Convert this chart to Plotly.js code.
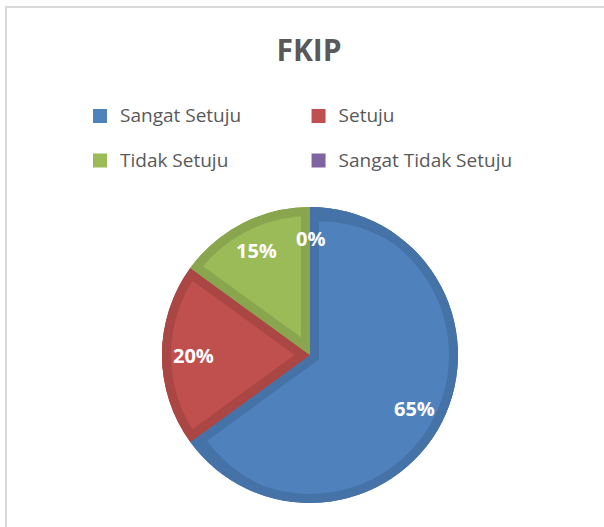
<!DOCTYPE html>
<html><head><meta charset="utf-8">
<script src="https://cdn.plot.ly/plotly-3.0.1.min.js"></script>
<style>
html,body{margin:0;padding:0;background:#fff;}
#wrap{position:relative;width:604px;height:527px;overflow:hidden;background:#fff;}
#frame{position:absolute;left:5px;top:6px;width:700px;height:600px;border-top:2px solid #D9D9D9;border-left:2px solid #D9D9D9;}
#chart{position:absolute;left:0;top:0;width:604px;height:527px;}
</style></head><body>
<div id="wrap"><div id="frame"></div><div id="chart"></div></div>
<script>
// ---- data ----
const categories = ['Sangat Setuju', 'Setuju', 'Tidak Setuju', 'Sangat Tidak Setuju'];
const values = [65, 20, 15, 0];
const chartTitle = 'FKIP';

// ---- style ----
const lightColors = ['#4F81BD', '#C0504D', '#9BBB59', '#8064A2'];
const darkColors  = ['#4572A7', '#AA4643', '#89A54E', '#71588F'];
const FONT = 'Open Sans, Noto Sans, sans-serif';
const W = 604, H = 527, CX = 310, CY = 355, R = 148, S = 9, LABEL_R = 0.79;

function dom(r) {
  return {x: [(CX - r) / W, (CX + r) / W], y: [(H - CY - r) / H, (H - CY + r) / H]};
}
const total = values.reduce((a, b) => a + b, 0);
const shownLabels = categories.map(c => '<span style="font-size:19px">' + c + '</span><br> ');
const clear = 'rgba(0,0,0,0)';

const base = {type: 'pie', labels: shownLabels, values: values, sort: false,
  direction: 'clockwise', rotation: 0, textinfo: 'none', hoverinfo: 'skip', showlegend: false};

const traces = [];
// legend carrier (hidden beneath)
traces.push(Object.assign({}, base, {domain: dom(R - 2), showlegend: true,
  marker: {colors: lightColors, line: {color: lightColors, width: 2}}}));
// dark base
traces.push(Object.assign({}, base, {domain: dom(R), marker: {colors: darkColors, line: {width: 0}}}));
// light inset per slice (pulled to reveal dark edge)
values.forEach((v, i) => {
  if (!(v > 0)) return;
  const half = Math.PI * v / total;
  let d = S / Math.max(Math.sin(half), 1e-6);
  d = Math.min(d, 1.6 * S / (1 - Math.cos(half)));
  const pull = d / (R - d);
  traces.push(Object.assign({}, base, {domain: dom(R),
    marker: {colors: lightColors.map((c, j) => j === i ? c : clear), line: {width: 0}},
    pull: values.map((_, j) => j === i ? pull : 0)}));
});
// dark outer ring
traces.push(Object.assign({}, base, {domain: dom(R), hole: (R - S) / R,
  marker: {colors: darkColors, line: {width: 0}}}));
// carrier for label axes
traces.push({type: 'scatter', x: [], y: [], xaxis: 'x', yaxis: 'y', showlegend: false, hoverinfo: 'skip'});

let cum = 0;
const annotations = values.map(v => {
  const mid = 2 * Math.PI * (cum + v / 2) / total;
  cum += v;
  return {xref: 'x', yref: 'y', x: LABEL_R * Math.sin(mid), y: LABEL_R * Math.cos(mid),
    text: Math.round(v / total * 100) + '%', showarrow: false, xanchor: 'center', yanchor: 'middle',
    font: {family: FONT, size: 20, color: '#FFFFFF', weight: 'bold'}};
});

const layout = {
  width: W, height: H, autosize: false,
  margin: {l: 0, r: 0, t: 0, b: 0, pad: 0},
  paper_bgcolor: clear, plot_bgcolor: clear,
  title: {text: chartTitle, x: 309 / W, xanchor: 'center', xref: 'container',
    y: 1 - 50 / H, yanchor: 'middle', yref: 'container',
    font: {family: FONT, size: 30, color: '#595959', weight: 'bold'}},
  showlegend: true,
  legend: {orientation: 'h', x: 80 / W, xanchor: 'left', y: 1 - 99 / H, yanchor: 'top',
    valign: 'top', traceorder: 'normal',
    bgcolor: clear, font: {family: FONT, size: 16, color: '#595959'}},
  xaxis: {domain: dom(R).x, range: [-1, 1], visible: false, fixedrange: true},
  yaxis: {domain: dom(R).y, range: [-1, 1], visible: false, fixedrange: true},
  annotations: annotations
};
Plotly.newPlot('chart', traces, layout, {displayModeBar: false, staticPlot: true});
</script>
</body></html>
